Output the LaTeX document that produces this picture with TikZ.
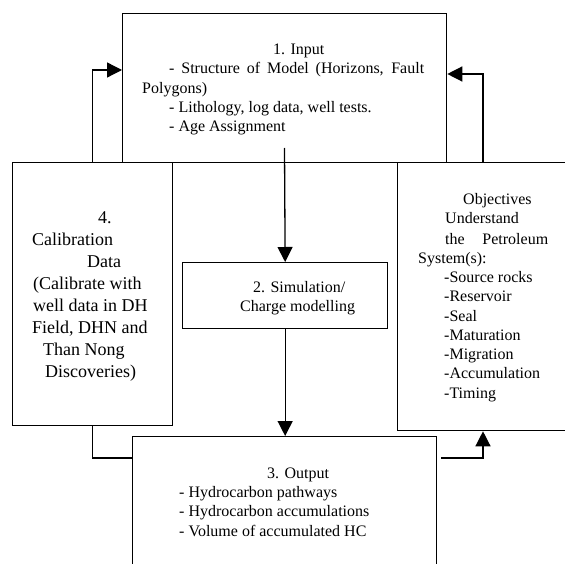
\documentclass[tikz,border=0pt]{standalone}
\usepackage{fontspec}
\setmainfont{Liberation Serif}
\usetikzlibrary{arrows.meta}
\begin{document}
\begin{tikzpicture}[x=1pt,y=-1pt,
  boxnode/.style={draw, line width=1.3pt, inner sep=0pt, anchor=north west},
  txt/.style={anchor=base west, inner sep=0pt, font=\fontsize{16}{19}\selectfont},
  caltxt/.style={anchor=base west, inner sep=0pt, font=\fontsize{18}{22}\selectfont},
  conn/.style={line width=1.3pt},
  arr/.style={conn, -{Triangle[length=15pt,width=15pt]}}]
\useasboundingbox (0,0) rectangle (565,564);
\begin{scope}
\clip (0,0) rectangle (565,564);
% boxes
\node[boxnode, minimum width=324pt, minimum height=149.3pt] (inp) at (122,12.7) {};
\node[boxnode, minimum width=160pt, minimum height=263pt] (cal) at (12,162) {};
\node[boxnode, minimum width=205pt, minimum height=66pt] (sim) at (182,262) {};
\node[boxnode, minimum width=304pt, minimum height=150pt] (out) at (132,436) {};
\node[boxnode, minimum width=200pt, minimum height=268pt] (obj) at (397,162) {};
% input text
\node[txt] (i1) at (273,55) {1. Input};
\node[txt] (i2) at (169,74) {\makebox[255pt][s]{- Structure of Model (Horizons, Fault}};
\node[txt] (i3) at (142,93.5) {Polygons)};
\node[txt] (i4) at (169,113) {- Lithology, log data, well tests.};
\node[txt] (i5) at (169,132) {- Age Assignment};
% calibration text
\node[caltxt] (c1) at (98,224) {4.};
\node[caltxt] (c2) at (32,246) {Calibration};
\node[caltxt] (c3) at (87,268) {Data};
\node[caltxt] (c4) at (33,289) {(Calibrate with};
\node[caltxt] (c5) at (33,311) {well data in DH};
\node[caltxt] (c6) at (32,333) {Field, DHN and};
\node[caltxt] (c7) at (43,355) {Than Nong};
\node[caltxt] (c8) at (45,377) {Discoveries)};
% simulation text
\node[txt] (s1) at (253,292) {2. Simulation/};
\node[txt] (s2) at (240,311) {Charge modelling};
% output text
\node[txt] (o1) at (267,478) {3. Output};
\node[txt] (o2) at (179,497) {- Hydrocarbon pathways};
\node[txt] (o3) at (179,516.5) {- Hydrocarbon accumulations};
\node[txt] (o4) at (179,536) {- Volume of accumulated HC};
% objectives text
\node[txt] (b1) at (463,205) {Objectives};
\node[txt] (b2) at (445,224) {Understand};
\node[txt] (b3) at (445,244) {\hbox to 103pt{the\hfill Petroleum}};
\node[txt] (b4) at (418,263) {System(s):};
\node[txt] (b5) at (444,282) {-Source rocks};
\node[txt] (b6) at (444,301) {-Reservoir};
\node[txt] (b7) at (444,321) {-Seal};
\node[txt] (b8) at (444,340) {-Maturation};
\node[txt] (b9) at (444,359) {-Migration};
\node[txt] (b10) at (444,378) {-Accumulation};
\node[txt] (b11) at (444,398) {-Timing};
% connectors
\coordinate (inpstart) at (284.5,148);
\coordinate (outright) at (441,458);
\draw[arr] (inpstart) -- (sim.north);
\draw[arr] (sim.south) -- (out.north -| sim.south);
\draw[arr] (cal.north -| 92.5,0) |- (inp.west |- 0,70);
\draw[arr] (obj.north -| 483,0) |- (inp.east |- 0,74);
\draw[conn] (out.west |- 0,458) -| (cal.south -| 92.5,0);
\draw[arr] (outright) -| (obj.south -| 483,0);
\end{scope}
\end{tikzpicture}
\end{document}
